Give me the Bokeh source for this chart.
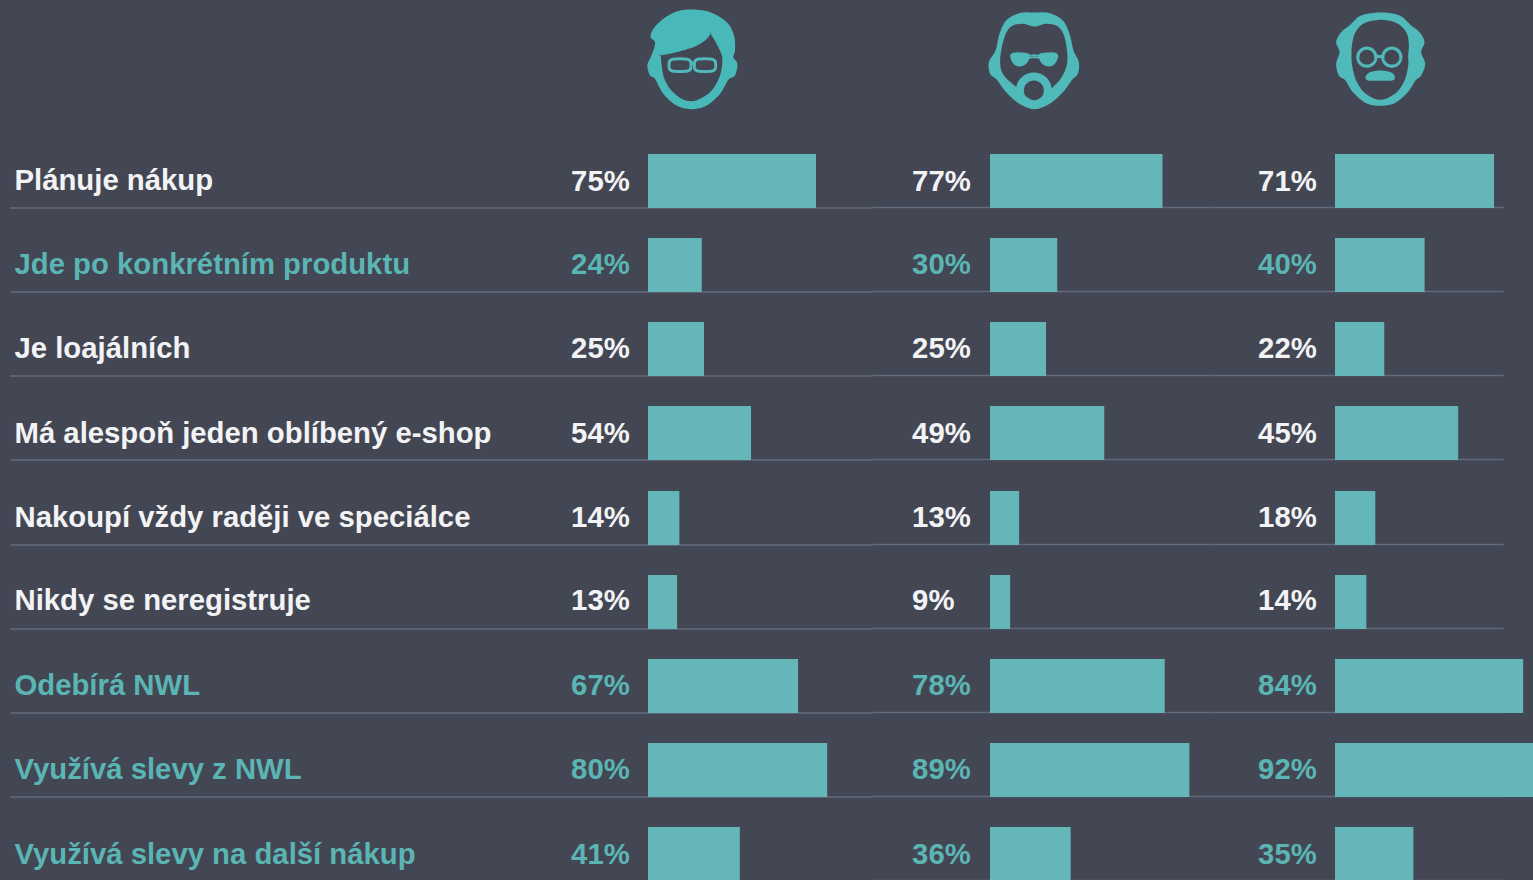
import numpy as np
from bokeh.plotting import figure
from bokeh.models import Range1d
from bokeh.core.properties import value
from bokeh.embed import file_html
from bokeh.resources import INLINE

categories = ["Plánuje nákup", "Jde po konkrétním produktu", "Je loajálních",
              "Má alespoň jeden oblíbený e-shop", "Nakoupí vždy raději ve speciálce",
              "Nikdy se neregistruje", "Odebírá NWL", "Využívá slevy z NWL",
              "Využívá slevy na další nákup"]
highlighted = [False, True, False, False, False, False, True, True, True]
# printed percentages
young = [75, 24, 25, 54, 14, 13, 67, 80, 41]
middle = [77, 30, 25, 49, 13, 9, 78, 89, 36]
senior = [71, 40, 22, 45, 18, 14, 84, 92, 35]
# bar lengths as drawn (row 4 of the source does not follow its labels)
young_bars = [75, 24, 25, 46, 14, 13, 67, 80, 41]
middle_bars = [77, 30, 25, 51, 13, 9, 78, 89, 36]
senior_bars = [71, 40, 22, 55, 18, 14, 84, 92, 35]

BG, BAR, TEAL, WHITE, RULE = "#434753", "#64b6b8", "#5ab5b4", "#f3f3f6", "#636a7c"
ICON = "#50b9b9"
FONT = value("Liberation Sans")
W, H = 1534, 881
UNIT = 2.24
PITCH = 84.15
TOP0 = 155
BAR_H = 54
PCT_NUDGE = [26, 25, 25, 26, 25, 24, 25, 25, 26]
LABEL_NUDGE = [25, 25, 25, 26, 25, 24, 25, 25, 26]
columns = [(young, young_bars, 648.5, 571.6), (middle, middle_bars, 990.5, 912.6), (senior, senior_bars, 1335.5, 1258.6)]

p = figure(width=W, height=H, output_backend="svg", toolbar_location=None,
           x_range=Range1d(0, W), y_range=Range1d(H, 0), min_border=0,
           background_fill_color=BG, border_fill_color=BG, outline_line_color=None,
           margin=(-1, 0, 0, -1))
p.axis.visible = False
p.grid.visible = False

tops = [round(TOP0 + PITCH * i) for i in range(len(categories))]
colors = [TEAL if h else WHITE for h in highlighted]

# rules
for x0, x1, dy in [(11, 873, -0.5), (873, 1214, -1.0), (1214, 1504, -1.0)]:
    ys = [t + BAR_H + dy for t in tops]
    p.segment(x0=[x0] * len(ys), x1=[x1] * len(ys), y0=ys, y1=ys, line_color=RULE, line_width=1.3)

# bars and percentages
for vals, bars, x0, xt in columns:
    p.quad(left=[x0] * len(bars), right=[x0 + v * UNIT for v in bars],
           top=[t - 0.5 for t in tops], bottom=[t + BAR_H - 0.5 for t in tops], fill_color=BAR, line_color=None)
    p.text(x=[xt] * len(vals), y=[t + n for t, n in zip(tops, PCT_NUDGE)], text=[f"{v}%" for v in vals],
           text_color=colors, text_font=FONT, text_font_style="bold", text_font_size="29.3px",
           text_baseline="alphabetic", text_align="left")

p.text(x=[15] * len(categories), y=[t + n for t, n in zip(tops, LABEL_NUDGE)], text=categories,
       text_color=colors, text_font=FONT, text_font_style="bold", text_font_size="29.3px",
       text_baseline="alphabetic", text_align="left")


# icons: decorative outlines
def smooth(pts, n=10):
    pts = np.array(pts, float)
    m = len(pts)
    out = []
    for i in range(m):
        a, b, c, d = pts[(i - 1) % m], pts[i], pts[(i + 1) % m], pts[(i + 2) % m]
        for t in np.linspace(0, 1, n, endpoint=False):
            out.append(0.5 * (2 * b + (c - a) * t + (2 * a - 5 * b + 4 * c - d) * t ** 2
                              + (3 * b - a - 3 * c + d) * t ** 3))
    return np.array(out)


def place(arr, ox):
    return list(ox + arr[:, 0] / 3), list(1 + arr[:, 1] / 3)


def shape(outer, holes, ox, color=ICON):
    ox_, oy_ = place(smooth(outer), ox)
    xs = [[[ox_] + [place(smooth(h), ox)[0] for h in holes]]]
    ys = [[[oy_] + [place(smooth(h), ox)[1] for h in holes]]]
    p.multi_polygons(xs=xs, ys=ys, fill_color=color, line_color=None)


def circle_pts(cx, cy, rx, ry=None, k=2.0):
    ry = rx if ry is None else ry
    t = np.linspace(0, 2 * np.pi, 16, endpoint=False)
    return list(zip(cx + rx * np.sign(np.cos(t)) * np.abs(np.cos(t)) ** (2 / k),
                    cy + ry * np.sign(np.sin(t)) * np.abs(np.sin(t)) ** (2 / k)))


def stroke(pts, ox, w, closed=True):
    arr = smooth(pts) if closed else np.array(pts, float)
    if closed:
        arr = np.vstack([arr, arr[:1]])
    x, y = place(arr, ox)
    p.line(x, y, line_color=ICON, line_width=w)


# young
ox = 620.5
shape([(215, 27), (270, 35), (320, 65), (342, 105), (345, 150), (340, 170), (352, 190), (345, 225), (325, 238),
       (300, 280), (260, 315), (215, 326), (170, 315), (130, 280), (105, 235), (90, 225), (82, 195), (92, 170),
       (100, 150), (105, 125), (92, 110), (100, 85), (130, 55), (170, 33)],
      [[(272, 100), (272, 100), (295, 140), (307, 175), (300, 225), (275, 270), (240, 295), (215, 302), (185, 295),
        (150, 265), (130, 225), (122, 165), (122, 165), (170, 155), (220, 140), (255, 120)]], ox, "#48b9b8")
stroke(circle_pts(180, 194, 33, 19, 3.5), ox, 3)
stroke(circle_pts(255, 194, 32, 19, 3.5), ox, 3)
stroke([(212, 188), (224, 188)], ox, 3, closed=False)

# middle
ox = 960
shape([(225, 36), (270, 38), (310, 60), (330, 100), (342, 150), (358, 185), (355, 220), (338, 238), (310, 275),
       (270, 310), (225, 326), (180, 310), (140, 275), (112, 238), (92, 220), (88, 185), (108, 150),
       (120, 100), (140, 60), (180, 38)],
      [[(135, 110), (155, 78), (190, 70), (225, 78), (260, 70), (295, 78), (315, 110), (324, 175), (312, 220),
        (285, 255), (225, 300), (165, 255), (130, 220), (122, 175)]], ox)
shape(circle_pts(223, 270, 54), [circle_pts(223, 270, 30)], ox)
shape([(152, 168), (160, 157), (185, 156), (208, 160), (210, 172), (200, 190), (180, 198), (162, 190)], [], ox)
shape([(296, 168), (288, 157), (263, 156), (240, 160), (238, 172), (248, 190), (268, 198), (286, 190)], [], ox)
stroke([(208, 166), (224, 164), (240, 166)], ox, 1.6, closed=False)
stroke([(208, 172), (224, 170), (240, 172)], ox, 1.6, closed=False)

# senior
ox = 1310
shape([(215, 36), (270, 45), (305, 75), (330, 95), (345, 125), (335, 155), (347, 190), (335, 225), (318, 240),
       (295, 275), (255, 308), (212, 316), (170, 308), (130, 275), (108, 240), (88, 225), (80, 190), (90, 155),
       (80, 125), (95, 95), (120, 75), (155, 45)],
      [[(215, 58), (262, 68), (290, 95), (298, 130), (296, 165), (296, 195), (285, 240), (258, 278), (212, 298),
        (167, 278), (140, 240), (128, 195), (126, 165), (128, 130), (138, 95), (165, 68)]], ox)
stroke(circle_pts(172, 170, 27), ox, 3.2)
stroke(circle_pts(247, 170, 27), ox, 3.2)
stroke([(199, 168), (220, 168)], ox, 3.2, closed=False)
shape([(172, 222), (185, 214), (212, 210), (240, 214), (253, 222), (256, 232), (248, 240), (212, 241), (176, 240),
       (168, 232)], [], ox)

open("out.html", "w").write(file_html(p, INLINE))
